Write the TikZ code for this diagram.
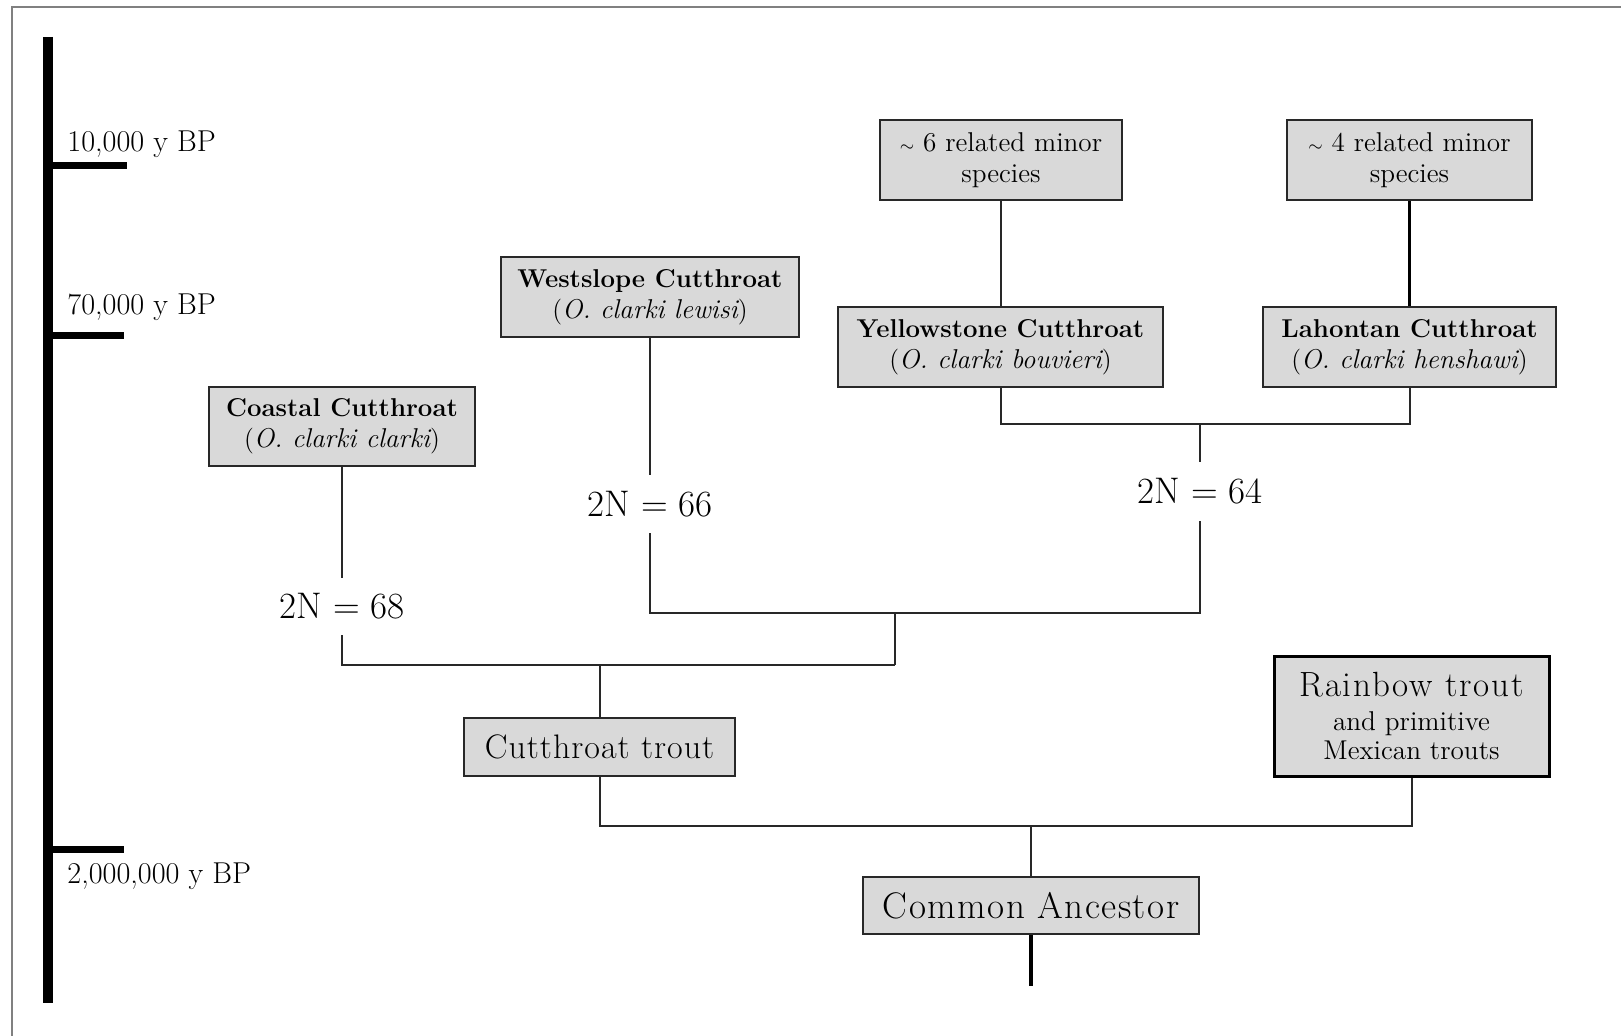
\documentclass[tikz,border=0pt]{standalone}
\usepackage{fontspec}
\setmainfont{Latin Modern Roman}
\definecolor{boxfill}{RGB}{217,217,217}
\definecolor{boxline}{RGB}{40,40,40}
\definecolor{conn}{RGB}{40,40,40}
\definecolor{frame}{RGB}{128,128,128}
\begin{document}
\begin{tikzpicture}[x=0.5pt,y=-0.5pt,
  box/.style={draw=boxline, fill=boxfill, line width=1pt, inner sep=0pt, align=center},
  sp/.style={font=\fontsize{12.9}{15.5}\selectfont},
  lbl/.style={inner sep=0pt, font=\fontsize{18.5}{20}\selectfont, minimum height=29pt},
  yr/.style={inner sep=0pt, anchor=base west, font=\fontsize{15.1}{16}\selectfont},
  link/.style={draw=conn, line width=1pt},
  thicklink/.style={draw=black, line width=1.75pt},
  tick/.style={draw=black, line width=3.5pt}]
\useasboundingbox (0,0) rectangle (1621,1036);
% frame
\draw[frame, line width=1pt] (12,1040) -- (12,7) -- (1625,7);
% timeline
\coordinate (ttop) at (48,37);
\coordinate (tbot) at (48,1003);
\draw[black, line width=5pt] (ttop) -- (tbot);
\coordinate (t1) at (48,166);
\coordinate (t2) at (48,336);
\coordinate (t3) at (48,849);
\draw[tick] ([xshift=-2.5pt]t1) -- (127,166);
\draw[tick] ([xshift=-2.5pt]t2) -- (124,336);
\draw[tick] ([xshift=-2.5pt]t3) -- (124,849);
\node[yr] (y1) at (67,152) {10,000 y BP};
\node[yr] (y2) at (67,315) {70,000 y BP};
\node[yr] (y3) at (67,883) {2,000,000 y BP};
% boxes
\node[box, sp, minimum width=133pt, minimum height=39.5pt] (coast) at (342,426.5)
  {{\bfseries Coastal Cutthroat}\\({\fontsize{13.6}{15.5}\selectfont\itshape O. clarki clarki})};
\node[box, sp, minimum width=149pt, minimum height=40pt] (west) at (650,297)
  {{\bfseries Westslope Cutthroat}\\({\fontsize{13.6}{15.5}\selectfont\itshape O. clarki lewisi})};
\node[box, sp, minimum width=162.5pt, minimum height=40pt] (yell) at (1000.5,347)
  {{\bfseries Yellowstone Cutthroat}\\({\fontsize{13.6}{15.5}\selectfont\itshape O. clarki bouvieri})};
\node[box, sp, minimum width=146.5pt, minimum height=40pt] (lah) at (1409.5,347)
  {{\bfseries Lahontan Cutthroat}\\({\fontsize{13.6}{15.5}\selectfont\itshape O. clarki henshawi})};
\node[box, font=\fontsize{13.6}{15.5}\selectfont, minimum width=121pt, minimum height=40pt] (six) at (1001,160)
  {{\fontsize{9}{9}\selectfont$\sim$} 6 related minor\\species};
\node[box, font=\fontsize{13.6}{15.5}\selectfont, minimum width=122.5pt, minimum height=40pt] (four) at (1409.5,160)
  {{\fontsize{9}{9}\selectfont$\sim$} 4 related minor\\species};
\node[box, minimum width=135.5pt, minimum height=29pt] (cut) at (599.5,747)
  {\fontsize{17}{18}\selectfont\addfontfeatures{LetterSpace=3}Cutthroat trout};
\node[box, draw=black, line width=1.5pt, font=\fontsize{13.6}{14.5}\selectfont, minimum width=137.5pt, minimum height=60pt] (rain) at (1411.5,716)
  {{\fontsize{17.5}{17}\selectfont\addfontfeatures{LetterSpace=5}Rainbow trout}\\[2.5pt]and primitive\\Mexican trouts};
\node[box, minimum width=168pt, minimum height=28.5pt] (anc) at (1031,905.5)
  {\fontsize{18.5}{20}\selectfont\addfontfeatures{LetterSpace=4}Common Ancestor};
% chromosome labels
\node[lbl, minimum height=28.5pt] (n68) at (342,606.5) {2N = 68};
\node[lbl] (n66) at (650,504) {2N = 66};
\node[lbl, minimum height=29.5pt] (n64) at (1200,491.5) {2N = 64};
% junctions
\coordinate (j64) at (1200,424);
\coordinate (j2) at (895,613);
\coordinate (j1) at (895,665);
\coordinate (j0) at (1031,826);
\coordinate (root) at (1031,986);
% connectors
\draw[link] (six.south) -- (six.south |- yell.north);
\draw[thicklink] (four.south) -- (four.south |- lah.north);
\draw[link] (yell.south) |- (lah.south |- j64) -- (lah.south);
\draw[link] (j64) -- (n64.north);
\draw[link] (west.south) -- (n66.north);
\draw[link] (n66.south) |- (n64.south |- j2) -- (n64.south);
\draw[link] (coast.south) -- (n68.north);
\draw[link] (n68.south) |- (j1);
\draw[link] (j2) -- (j1);
\draw[link] (cut.north) -- (cut.north |- j1);
\draw[link] (cut.south) |- (rain.south |- j0) -- (rain.south);
\draw[link] (j0) -- (anc.north);
\draw[thicklink] (anc.south) -- (root);
\end{tikzpicture}
\end{document}
